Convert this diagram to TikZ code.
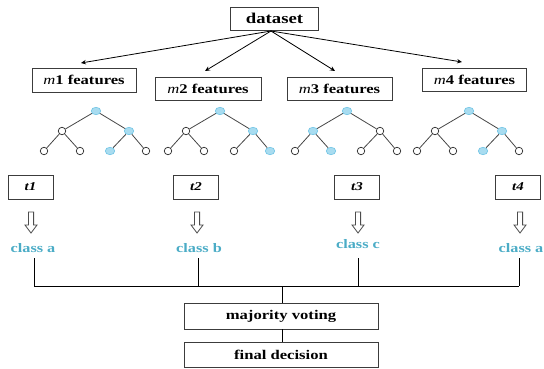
\documentclass[tikz,border=0pt]{standalone}
\usepackage{fontspec}
\setmainfont{Liberation Serif}
\newfontfamily\wideserif[FakeStretch=1.25]{Liberation Serif}
\usetikzlibrary{shapes.geometric,arrows.meta}
\definecolor{boxline}{RGB}{60,60,60}
\definecolor{classblue}{RGB}{75,172,198}
\definecolor{nodeblue}{RGB}{168,220,240}
\definecolor{nodeblueline}{RGB}{110,195,228}
\definecolor{edgegray}{RGB}{70,70,70}
\tikzset{
  box/.style={draw=boxline, line width=0.9pt, inner sep=0pt, align=center,
    font=\wideserif\bfseries\fontsize{13.3}{15}\selectfont},
  tbox/.style={box, minimum width=45pt, minimum height=24pt,
    font=\wideserif\bfseries\itshape\fontsize{12}{14}\selectfont},
  clabel/.style={inner sep=0pt, text=classblue,
    font=\wideserif\bfseries\fontsize{13}{15}\selectfont},
  tw/.style={circle, draw=black!85, fill=white, line width=0.7pt,
    minimum size=7.5pt, inner sep=0pt},
  tb/.style={ellipse, draw=nodeblueline, fill=nodeblue, line width=0.6pt,
    minimum width=9.5pt, minimum height=7.5pt, inner sep=0pt},
  tedge/.style={draw=edgegray, line width=0.8pt},
  conn/.style={draw=black, line width=0.8pt},
  hollow/.style={draw=black!70, line width=0.8pt, fill=white},
  pics/tree/.style n args={7}{code={
    \node[#1] (-r) at (0,0) {};
    \node[#2] (-a) at (-34,20) {};
    \node[#3] (-b) at (33,20) {};
    \node[#4] (-c) at (-52,40) {};
    \node[#5] (-d) at (-16,40) {};
    \node[#6] (-e) at (14,40) {};
    \node[#7] (-f) at (50,40) {};
    \draw[tedge] (-r) -- (-a);
    \draw[tedge] (-r) -- (-b);
    \draw[tedge] (-a) -- (-c);
    \draw[tedge] (-a) -- (-d);
    \draw[tedge] (-b) -- (-e);
    \draw[tedge] (-b) -- (-f);
  }},
  pics/downarrow/.style={code={
    \draw[hollow] (-2.6,0) -- (2.6,0) -- (2.6,13) -- (6,13) -- (0,21)
      -- (-6,13) -- (-2.6,13) -- cycle;
  }}
}
\begin{document}
\begin{tikzpicture}[x=1pt,y=-1pt]
\useasboundingbox (0,0) rectangle (544,369);

% top
\node[box, minimum width=88pt, minimum height=23pt,
  font=\wideserif\bfseries\fontsize{15}{17}\selectfont] (ds) at (274.5,18.5) {dataset};
\node[box, minimum width=104pt, minimum height=24pt] (m1) at (84,80)
  {{\mdseries\itshape m}1 features};
\node[box, minimum width=106pt, minimum height=23pt] (m2) at (208,88.5)
  {{\mdseries\itshape m}2 features};
\node[box, minimum width=105pt, minimum height=23pt] (m3) at (339.5,88.5)
  {{\mdseries\itshape m}3 features};
\node[box, minimum width=104pt, minimum height=23pt] (m4) at (474.5,80)
  {{\mdseries\itshape m}4 features};

\coordinate (src) at (271,31);
\coordinate (a1) at (81,63);
\coordinate (a2) at (205,71);
\coordinate (a3) at (335,71);
\coordinate (a4) at (462,62);
\foreach \t in {a1,a2,a3,a4}
  \draw[conn, -{Stealth[length=5pt,width=4.5pt]}] (src) -- (\t);

% trees
\pic (T1) at (96,111) {tree={tb}{tw}{tb}{tw}{tw}{tb}{tw}};
\pic (T2) at (220,111) {tree={tb}{tw}{tb}{tw}{tw}{tw}{tb}};
\pic (T3) at (347,111) {tree={tb}{tb}{tw}{tw}{tb}{tw}{tw}};
\pic (T4) at (469,111) {tree={tb}{tw}{tb}{tw}{tw}{tb}{tw}};

% t boxes
\node[tbox] (t1) at (30.5,187) {t1};
\node[tbox] (t2) at (196,187) {t2};
\node[tbox] (t3) at (357,187) {t3};
\node[tbox] (t4) at (518,187) {t4};

% hollow arrows
\pic (D1) at (31,212) {downarrow};
\pic (D2) at (197,212) {downarrow};
\pic (D3) at (358,212) {downarrow};
\pic (D4) at (520,212) {downarrow};

% class labels
\node[clabel] (c1) at (33,248) {class a};
\node[clabel] (c2) at (199,248) {class b};
\node[clabel] (c3) at (358,244) {class c};
\node[clabel] (c4) at (521,248) {class a};

% bus
\coordinate (b1) at (34,286);
\coordinate (b2) at (198,286);
\coordinate (b3) at (358,286);
\coordinate (b4) at (519,286);
\coordinate (bm) at (282,286);
\draw[conn] (34,258) -- (b1);
\draw[conn] (198,258) -- (b2);
\draw[conn] (358,258) -- (b3);
\draw[conn] (519,258) -- (b4);
\draw[conn] (b1) -- (b4);

\node[box, minimum width=194pt, minimum height=26pt] (mv) at (281,316) {majority voting};
\node[box, minimum width=194pt, minimum height=25pt] (fd) at (281,354.5) {final decision};
\draw[conn] (bm) -- (mv.north -| bm);
\draw[conn] (mv.south -| bm) -- (fd.north -| bm);
\end{tikzpicture}
\end{document}
